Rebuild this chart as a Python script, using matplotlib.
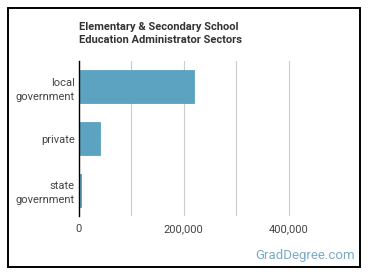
import matplotlib
matplotlib.use("Agg")
import matplotlib.pyplot as plt
from matplotlib.patches import Rectangle
from matplotlib.ticker import FuncFormatter

categories = ["local\ngovernment", "private", "state\ngovernment"]
values = [220000, 40000, 3000]
xticks = [0, 200000, 400000]
title = "Elementary & Secondary School\nEducation Administrator Sectors"

plt.rcParams['font.family'] = ['Roboto', 'DejaVu Sans']

fig = plt.figure(figsize=(3.7, 2.78), dpi=100)
fig.patches.append(Rectangle((8/370, 1-267/278), (360-8)/370, (267-8)/278,
                             transform=fig.transFigure, fill=False,
                             edgecolor='black', linewidth=1.4))
ax = fig.add_axes([79/370, 1-216/278, 262/370, 155/278])
y = list(range(len(categories)))
ax.barh(y, values, height=0.64, color='#5ba3c0', edgecolor='#4d97b5', linewidth=0.5, zorder=3)
ax.set_ylim(2.5, -0.5)
ax.set_xlim(0, 500000)
ax.set_yticks(y)
ax.set_yticklabels(categories, fontsize=8, color='#444444', linespacing=1.5)
ax.set_xticks(xticks)
ax.set_xticks([100000, 300000], minor=True)
ax.xaxis.grid(True, which='both', color='#cccccc', linewidth=0.8, zorder=0)
ax.xaxis.set_major_formatter(FuncFormatter(lambda v, p: f"{int(v):,}"))
ax.tick_params(axis='x', which='both', length=0, labelsize=8, labelcolor='#444444', pad=6)
ax.tick_params(axis='y', length=0, pad=3)
for s in ['top', 'right', 'bottom']:
    ax.spines[s].set_visible(False)
ax.spines['left'].set_color('black')
ax.spines['left'].set_linewidth(1.0)
ax.spines['left'].set_zorder(4)

fig.text(79/370, 1-22/278, title, fontsize=8, fontweight='bold', color='#333333',
         va='top', ha='left', linespacing=1.35)
fig.text(355/370, 1-256/278, "GradDegree.com", fontsize=9.5, color='#7aabc6',
         ha='right', va='center')

fig.savefig("out.png", dpi=100)
